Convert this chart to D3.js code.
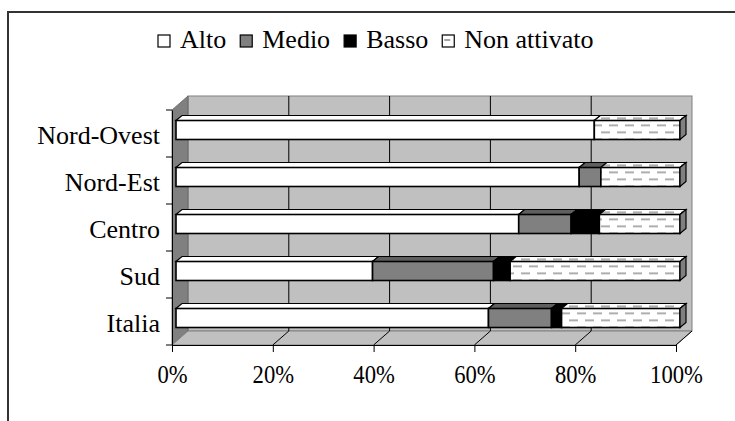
<!DOCTYPE html>
<html>
<head>
<meta charset="utf-8">
<script src="https://cdn.jsdelivr.net/npm/d3@7"></script>
<style>
body{margin:0;background:#fff;}
text{font-family:"Liberation Serif","Times New Roman",serif;}
</style>
</head>
<body>
<div id="container"></div>
<script>
// values (percent)
let categories=['Nord-Ovest','Nord-Est','Centro','Sud','Italia'];
let alto=[83,80,68,39,62];
let medio=[0,4.3,10.4,24,12.5];
let basso=[0,0,5.6,3.3,2];
let nonAttivato=[17,15.7,16,33.7,23.5];
let seriesNames=['Alto','Medio','Basso','Non attivato'];
let xTicks=[0,20,40,60,80,100];

let width=735,height=421;
let svg=d3.select('#container').append('svg').attr('width',width).attr('height',height);
let defs=svg.append('defs');

// dashed pattern for "Non attivato", one per bar so it lines up with the face
function dashPattern(id,y0){
  let pat=defs.append('pattern').attr('id',id).attr('patternUnits','userSpaceOnUse')
    .attr('x',0).attr('y',y0).attr('width',16).attr('height',14);
  pat.append('rect').attr('width',16).attr('height',14).attr('fill','#fff');
  pat.append('rect').attr('x',1).attr('y',4).attr('width',9).attr('height',1.6).attr('fill','#9a9a9a');
  pat.append('rect').attr('x',9).attr('y',11).attr('width',9).attr('height',1.6).attr('fill','#9a9a9a');
  pat.append('rect').attr('x',-7).attr('y',11).attr('width',9).attr('height',1.6).attr('fill','#9a9a9a');
}

let fills=['#ffffff','#808080','#000000',null];
let topFills=['#ffffff','#5f5f5f','#000000',null];

// frame
svg.append('rect').attr('x',8).attr('y',12).attr('width',800).attr('height',500)
  .attr('fill','none').attr('stroke','#333').attr('stroke-width',2);

let dx=16,dy=14;
let plotTop=110,plotBottom=345;
let x=d3.scaleLinear().domain([0,100]).range([172,676]);
let y=d3.scaleBand().domain(categories).range([plotTop,plotBottom]).padding(0);

// walls
svg.append('rect').attr('x',x(0)+dx).attr('y',plotTop-dy).attr('width',x(100)-x(0)).attr('height',plotBottom-plotTop)
  .attr('fill','#c0c0c0').attr('stroke','#808080').attr('stroke-width',1);
svg.append('polygon')
  .attr('points',[[x(0),plotTop],[x(0)+dx,plotTop-dy],[x(0)+dx,plotBottom-dy],[x(0),plotBottom]].join(' '))
  .attr('fill','#808080').attr('stroke','#606060').attr('stroke-width',0.8);
svg.append('polygon')
  .attr('points',[[x(0),plotBottom],[x(100),plotBottom],[x(100)+dx,plotBottom-dy],[x(0)+dx,plotBottom-dy]].join(' '))
  .attr('fill','#c0c0c0').attr('stroke','#808080').attr('stroke-width',1);

// gridlines on back wall and floor
let gridV=xTicks.filter(d=>d>0&&d<100);
svg.selectAll('.grid').data(gridV).enter().append('line')
  .attr('x1',d=>x(d)+dx).attr('x2',d=>x(d)+dx).attr('y1',plotTop-dy).attr('y2',plotBottom-dy)
  .attr('stroke','#000').attr('stroke-width',1);
svg.selectAll('.floorgrid').data(xTicks.filter(d=>d>0)).enter().append('line')
  .attr('x1',d=>x(d)).attr('x2',d=>x(d)+dx).attr('y1',plotBottom).attr('y2',plotBottom-dy)
  .attr('stroke','#000').attr('stroke-width',1);

// axes
let xAxis=svg.append('g').attr('transform','translate(0,'+plotBottom+')')
  .call(d3.axisBottom(x).tickValues(xTicks).tickFormat(d=>d+'%').tickSize(7).tickSizeOuter(0));
xAxis.select('.domain').attr('stroke','#000');
xAxis.selectAll('text').attr('font-size','26px').attr('font-family','Liberation Serif').attr('fill','#000').attr('dy',0).attr('y',38)
  .each(function(){
    let w=this.getComputedTextLength();
    d3.select(this).attr('textLength',w*0.87).attr('lengthAdjust','spacingAndGlyphs');
  });

let yAxis=svg.append('g').attr('transform','translate('+x(0)+',0)')
  .call(d3.axisLeft(y).tickValues([]).tickSizeOuter(0));
yAxis.select('.domain').attr('stroke','#000');
let yTickPos=[plotTop].concat(categories.map(c=>y(c)+y.bandwidth()));
svg.selectAll('.ytick').data(yTickPos).enter().append('line')
  .attr('x1',x(0)-6).attr('x2',x(0)).attr('y1',d=>d).attr('y2',d=>d).attr('stroke','#000');
svg.selectAll('.ylab').data(categories).enter().append('text')
  .attr('x',160).attr('y',d=>y(d)+y.bandwidth()/2+10)
  .attr('text-anchor','end').attr('font-size','26px').text(d=>d);

// bars
let rows=categories.map((c,i)=>({cat:c,Alto:alto[i],Medio:medio[i],Basso:basso[i],'Non attivato':nonAttivato[i]}));
let stacked=d3.stack().keys(seriesNames)(rows);
let bx=6,by=5,bh=19,off=4;
categories.forEach((c,i)=>{
  let t=y(c)+y.bandwidth()/2-13;
  dashPattern('dash'+i,t);
  let g=svg.append('g');
  let lastEnd=0;
  stacked.forEach((s,k)=>{
    let d=s[i];
    if(d[1]-d[0]<=0) return;
    let x0=x(d[0])+off,x1=x(d[1])+off;
    g.append('polygon').attr('points',[[x0,t],[x1,t],[x1+bx,t-by],[x0+bx,t-by]].join(' '))
      .attr('fill',topFills[k]||'url(#dash'+i+')').attr('stroke','#000').attr('stroke-width',1.2);
    g.append('rect').attr('x',x0).attr('y',t).attr('width',x1-x0).attr('height',bh)
      .attr('fill',fills[k]||'url(#dash'+i+')').attr('stroke','#000').attr('stroke-width',1.6);
    lastEnd=x1;
  });
  g.append('polygon').attr('points',[[lastEnd,t],[lastEnd+bx,t-by],[lastEnd+bx,t+bh-by],[lastEnd,t+bh]].join(' '))
    .attr('fill','#808080').attr('stroke','#000').attr('stroke-width',1.2);
});

// legend
let lx=158;
seriesNames.forEach((n,k)=>{
  svg.append('rect').attr('x',lx).attr('y',35).attr('width',12).attr('height',12)
    .attr('fill',fills[k]||'#fff').attr('stroke','#000').attr('stroke-width',1.2);
  if(k===3) svg.append('line').attr('x1',lx+2).attr('x2',lx+8).attr('y1',40).attr('y2',40).attr('stroke','#9a9a9a').attr('stroke-width',1.8);
  let t=svg.append('text').attr('x',lx+22).attr('y',48).attr('font-size','26px').text(n);
  lx=lx+22+t.node().getComputedTextLength()+14;
});
</script>
</body>
</html>
